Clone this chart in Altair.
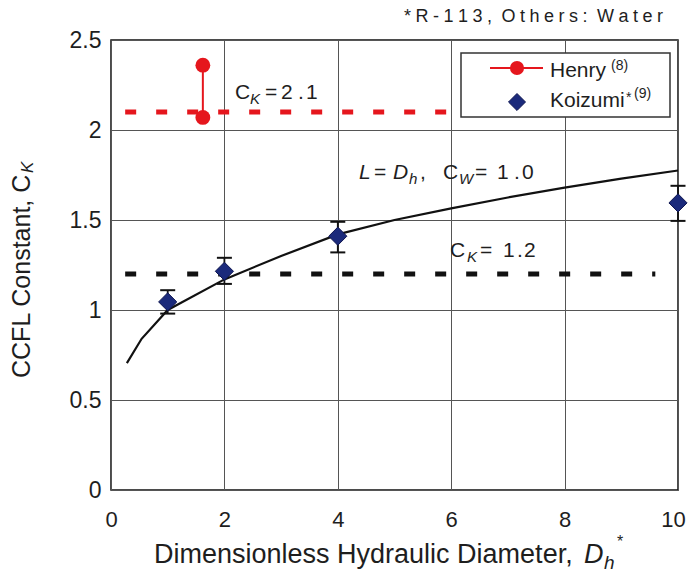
import altair as alt
import pandas as pd

FONT = "Liberation Sans"
INK = "#1e1e1e"
RED = "#e5161d"
NAVY = "#1b2a7b"

# Model curve for L = Dh, Cw = 1.0
curve_dh = [0.28, 0.54, 1, 2, 3, 4, 5, 6, 7, 8, 9, 10]
curve_ck = [0.705, 0.84, 1.0, 1.17, 1.30, 1.42, 1.50, 1.565, 1.625, 1.68, 1.73, 1.775]

# Henry (8): range of measured CK
henry_dh = [1.62, 1.62]
henry_ck = [2.07, 2.36]

# Koizumi (9), R-113: mean with scatter band
koizumi_dh = [1, 2, 4, 10]
koizumi_ck = [1.045, 1.215, 1.41, 1.595]
koizumi_lo = [0.98, 1.145, 1.32, 1.495]
koizumi_hi = [1.11, 1.29, 1.49, 1.69]

# Constant CK reference levels
ref_ck = [2.1, 1.2]
ref_from = [0.25, 0.25]
ref_to = [6.0, 9.6]
ref_color = [RED, "#111111"]

x_ticks = [0, 2, 4, 6, 8, 10]
y_ticks = [0, 0.5, 1, 1.5, 2, 2.5]

xs = alt.Scale(domain=[0, 10], nice=False, zero=False)
ys = alt.Scale(domain=[0, 2.5], nice=False, zero=False)

x_axis = alt.Axis(values=x_ticks, title=None, grid=True, ticks=False, domain=False,
                  labelFont=FONT, labelFontSize=22, labelColor=INK, labelPadding=19,
                  labelFlush=False, labelBaseline="top",
                  labelOffset={"condition": {"test": "datum.value == 10", "value": -5}, "value": 0})
y_axis = alt.Axis(values=y_ticks, title=None, grid=True, ticks=False, domain=False,
                  labelFont=FONT, labelFontSize=23, labelColor=INK, labelPadding=10,
                  labelExpr="'' + datum.value", labelBaseline="middle")


def X(field):
    return alt.X(field, type="quantitative", scale=xs, axis=x_axis)


def Y(field):
    return alt.Y(field, type="quantitative", scale=ys, axis=y_axis)


curve_df = pd.DataFrame({"dh": curve_dh, "ck": curve_ck})
henry_df = pd.DataFrame({"dh": henry_dh, "ck": henry_ck})
koi_df = pd.DataFrame({"dh": koizumi_dh, "ck": koizumi_ck, "lo": koizumi_lo, "hi": koizumi_hi})
ref_df = pd.DataFrame({"ck": ref_ck, "dh": ref_from, "dh2": ref_to, "color": ref_color})

ref_lines = alt.Chart(ref_df).mark_rule(strokeWidth=5, strokeDash=[11, 20], strokeCap="butt").encode(
    x=X("dh"), x2="dh2", y=Y("ck"), color=alt.Color("color:N", scale=None)
)

curve = alt.Chart(curve_df).mark_line(color="#111111", strokeWidth=2.2).encode(
    x=X("dh"), y=Y("ck")
)

henry_span = alt.Chart(henry_df).mark_line(color=RED, strokeWidth=2).encode(x=X("dh"), y=Y("ck"))
henry_pts = alt.Chart(henry_df).mark_point(shape="circle", filled=True, size=220, color=RED, opacity=1).encode(
    x=X("dh"), y=Y("ck")
)

koi_bar = alt.Chart(koi_df).mark_rule(color="#111111", strokeWidth=1.8).encode(
    x=X("dh"), y=Y("lo"), y2="hi"
)
koi_cap_lo = alt.Chart(koi_df).mark_tick(orient="horizontal", size=15, thickness=2, color="#111111", opacity=1).encode(
    x=X("dh"), y=Y("lo")
)
koi_cap_hi = alt.Chart(koi_df).mark_tick(orient="horizontal", size=15, thickness=2, color="#111111", opacity=1).encode(
    x=X("dh"), y=Y("hi")
)
koi_pts = alt.Chart(koi_df).mark_point(shape="diamond", filled=True, size=330, color=NAVY, opacity=1,
                                       stroke="#0f1650", strokeWidth=1).encode(x=X("dh"), y=Y("ck"))

anchor = pd.DataFrame({"k": [0]})


def label(text, x, y, size, italic=False, align="left", baseline="alphabetic", angle=0, dx=0, dy=0, color=INK):
    return alt.Chart(anchor).mark_text(
        text=text, font=FONT, fontSize=size, fontStyle="italic" if italic else "normal",
        align=align, baseline=baseline, angle=angle, dx=dx, dy=dy, color=color
    ).encode(x=alt.value(x), y=alt.value(y))


def rich(pieces, y, size):
    # pieces: (text, x, italic, subscript)
    out = []
    for text, x, italic, sub in pieces:
        if sub:
            out.append(label(text, x, y + 5, size * 0.72, italic=italic))
        else:
            out.append(label(text, x, y, size, italic=italic))
    return out


notes = []
notes += rich([("C", 124, False, False), ("K", 139, True, True), ("=", 154, False, False),
               ("2", 170, False, False), (".", 187, False, False), ("1", 195, False, False)], 59, 21)
notes += rich([("L", 248, True, False), ("=", 263, False, False), ("D", 282, True, False),
               ("h", 298, True, True), (",", 309, False, False), ("C", 332, False, False),
               ("W", 348, True, True), ("=", 364, False, False), ("1", 386, False, False),
               (".", 403, False, False), ("0", 411, False, False)], 139, 21)
notes += rich([("C", 339, False, False), ("K", 356, True, True), ("=", 369, False, False),
               ("1", 392, False, False), (".", 406, False, False), ("2", 413, False, False)], 217, 21)

# Legend box
legend_box = alt.Chart(anchor).mark_rect(fill="white", stroke="#333333", strokeWidth=1.5).encode(
    x=alt.value(350), x2=alt.value(559), y=alt.value(13), y2=alt.value(77)
)
legend_line = alt.Chart(anchor).mark_rule(color=RED, strokeWidth=2).encode(
    x=alt.value(379), x2=alt.value(432), y=alt.value(28)
)
legend_circle = alt.Chart(anchor).mark_point(shape="circle", filled=True, size=200, color=RED, opacity=1).encode(
    x=alt.value(406), y=alt.value(28)
)
legend_diamond = alt.Chart(anchor).mark_point(shape="diamond", filled=True, size=290, color=NAVY, opacity=1,
                                              stroke="#0f1650", strokeWidth=1).encode(
    x=alt.value(406), y=alt.value(62)
)
legend_text = [
    label("Henry", 439, 37, 21),
    label("(8)", 500, 30, 14),
    label("Koizumi", 439, 67, 21),
    label("*", 515, 62, 14),
    label("(9)", 523, 58, 14),
]

# Axis titles and fluid note
y_title = [
    label("CCFL Constant, C", -89, 338, 25, angle=270, baseline="middle"),
    label("K", -89, 338, 17, italic=True, angle=270, baseline="middle", dx=205, dy=6),
]
x_title = [
    label("Dimensionless Hydraulic Diameter, ", 43, 523, 27),
    label("D", 43, 523, 27, italic=True, dx=430),
    label("h", 43, 523, 19, italic=True, dx=450, dy=6),
    label("*", 43, 523, 16, dx=463, dy=-16),
]
sp = "\u2005"
top_note = label(sp.join("*R-113,") + sp + " " + sp.join("Others:") + sp + " " + sp.join("Water"),
                 552, -18, 18, align="right")

chart = alt.layer(
    ref_lines, curve, henry_span, henry_pts, koi_bar, koi_cap_lo, koi_cap_hi, koi_pts,
    *notes, legend_box, legend_line, legend_circle, legend_diamond, *legend_text,
    *y_title, *x_title, top_note
).properties(
    width=567, height=450,
    autosize=alt.AutoSizeParams(type="none"),
    padding={"left": 111, "top": 40, "right": 11, "bottom": 91},
    background="white",
).configure_view(
    stroke="#111111", strokeWidth=1.5
).configure_axis(
    gridColor="#555555", gridWidth=1, gridOpacity=1
)

chart.save("out.html", embed_options={"renderer": "svg", "actions": False})
